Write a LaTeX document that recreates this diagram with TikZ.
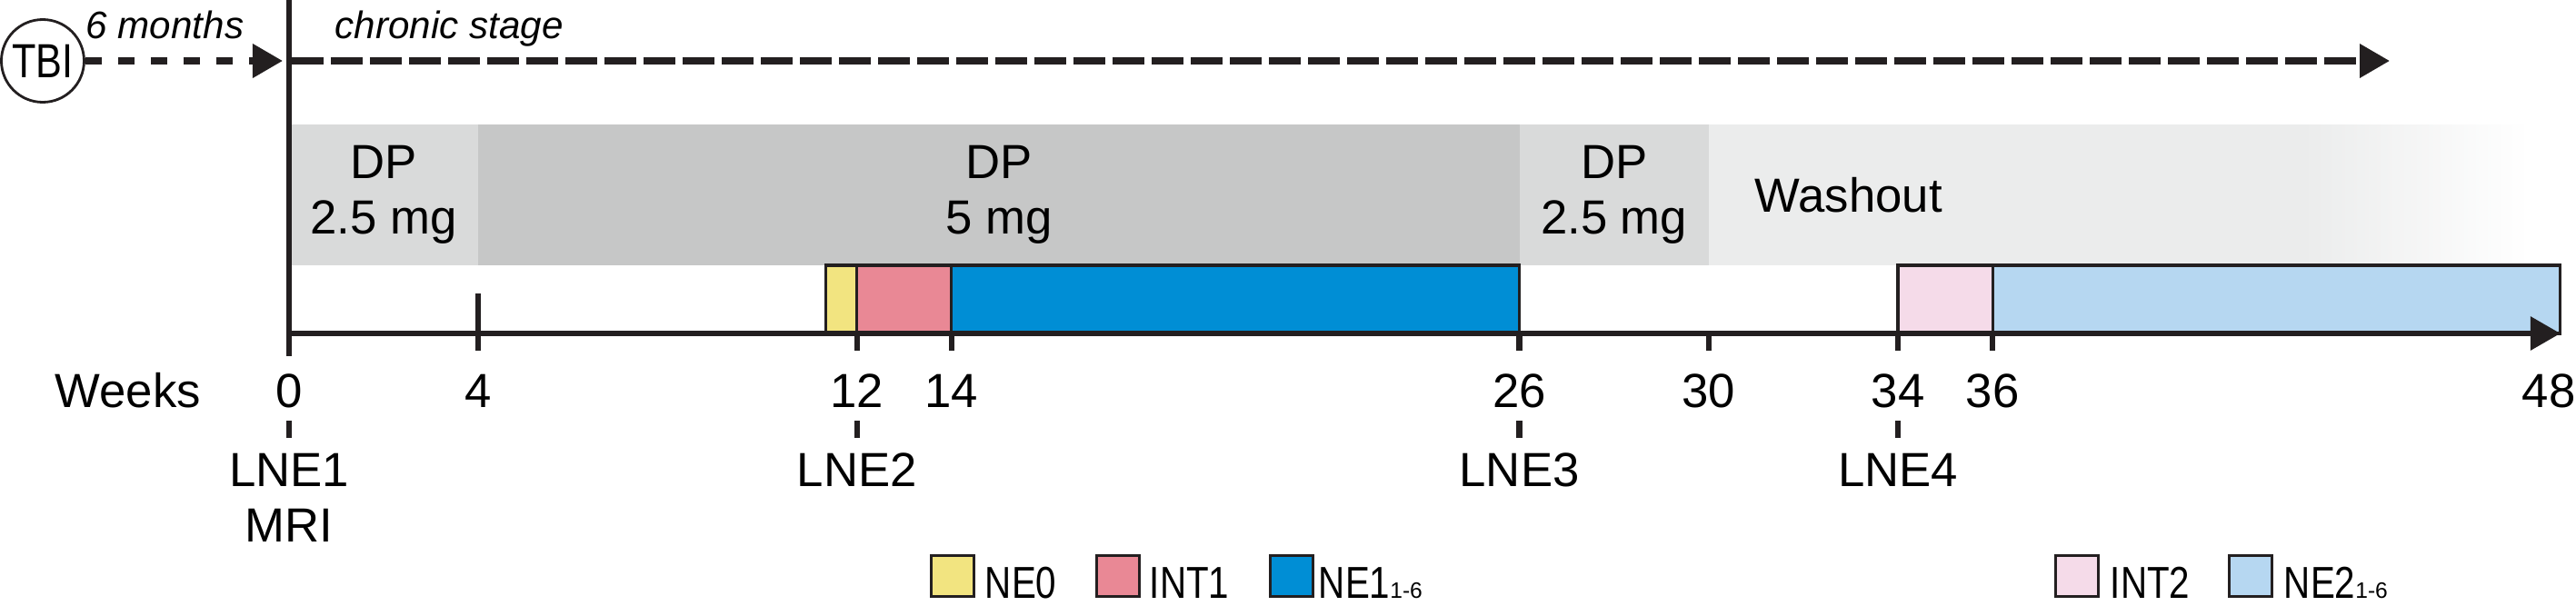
\documentclass[tikz,border=0pt]{standalone}
\usepackage{fontspec}
\setmainfont{Liberation Sans}
\newfontfamily\narrowfont[FakeStretch=0.82]{Liberation Sans}
\usetikzlibrary{arrows.meta,positioning}
\definecolor{inkcol}{HTML}{231F20}
\definecolor{dplow}{HTML}{D9DADA}
\definecolor{dphigh}{HTML}{C6C7C7}
\definecolor{washcol}{HTML}{EBECEC}
\definecolor{necol}{HTML}{F2E480}
\definecolor{intacol}{HTML}{E98895}
\definecolor{neacol}{HTML}{008ED5}
\definecolor{intbcol}{HTML}{F5DBE9}
\definecolor{nebcol}{HTML}{B6D7F1}
\newcommand{\subrng}{{\fontsize{7}{8}\selectfont\rmfamily 1-6}}

\begin{document}
\begin{tikzpicture}[>={Triangle[length=0.33cm, width=0.36cm]},
  lbl/.style={font=\fontsize{15}{17.3}\selectfont, inner sep = 0pt},
  ital/.style={font=\fontsize{12}{14}\selectfont\itshape, inner sep = 0pt, anchor = base west},
  leg/.style={font=\fontsize{14}{16}\selectfont\narrowfont, inner sep = 0pt, anchor = base west},
  legbox/.style={draw = inkcol, line width = 0.9pt, minimum width = 0.47cm, minimum height = 0.45cm, inner sep = 0pt, anchor = south west},
  phase/.style={draw = inkcol, line width = 0.9pt},
  axis/.style={draw = inkcol, line width = 1.8pt}]
\useasboundingbox (-3.18,-2.99) rectangle (25.16,3.67);
\def\wk{0.5206}

% treatment bands
\fill[dplow] (0,0.75) rectangle (4*\wk,2.30);
\fill[dphigh] (4*\wk,0.75) rectangle (26*\wk,2.30);
\fill[dplow] (26*\wk,0.75) rectangle (30*\wk,2.30);
\fill[washcol] (30*\wk,0.75) rectangle (22.16,2.30);
\shade[left color = washcol, right color = white] (22.15,0.75) rectangle (24.65,2.30);
\node[lbl, align = center] (dp1) at (2*\wk,1.525) {DP\\2.5 mg};
\node[lbl, align = center] (dp2) at (15*\wk,1.525) {DP\\5 mg};
\node[lbl, align = center] (dp3) at (28*\wk,1.525) {DP\\2.5 mg};
\node[lbl, anchor = west] (wash) at (16.12,1.525) {Washout};

% test phases
\draw[phase, fill = necol] (11.35*\wk,0) rectangle (12*\wk,0.75);
\draw[phase, fill = intacol] (12*\wk,0) rectangle (14*\wk,0.75);
\draw[phase, fill = neacol] (14*\wk,0) rectangle (26*\wk,0.75);
\draw[phase, fill = intbcol] (34*\wk,0) rectangle (36*\wk,0.75);
\draw[phase, fill = nebcol] (36*\wk,0) rectangle (48*\wk,0.75);

% time axis
\coordinate (origin) at (0,0);
\coordinate (wend) at (48*\wk,0);
\draw[axis, ->] (origin) -- (wend);
\draw[axis] (0,3.67) -- (0,-0.25);
\draw[axis] (4*\wk,0.44) -- (4*\wk,-0.19);
\foreach \w in {12, 14, 26, 30, 34, 36}{\draw[axis] (\w*\wk,0) -- (\w*\wk,-0.19);}

\node[lbl, anchor = base west] (weeks) at (-2.58,-0.81) {Weeks};
\foreach \w in {0, 4, 12, 14, 26, 30, 34, 36}{\node[lbl, anchor = base] (w\w) at (\w*\wk,-0.81) {\w};}
\node[lbl, anchor = base] (w48) at (24.86,-0.81) {48};
\foreach \w/\n in {0/1, 12/2, 26/3, 34/4}{
  \draw[axis] (\w*\wk,-0.96) -- (\w*\wk,-1.15);
  \node[lbl, anchor = base] (lne\n) at (\w*\wk,-1.68) {LNE\n};}
\node[lbl, below = 0.24cm of lne1] (mri) {MRI};

% injury and chronic stage
\node[lbl, draw = inkcol, circle, line width = 0.8pt, minimum size = 0.91cm, font = \fontsize{15}{17}\selectfont\narrowfont] (tbi) at (-2.71,3.00) {TBI};
\coordinate (onset) at (-0.07,3.00);
\coordinate (stagestart) at (0.03,3.00);
\coordinate (stageend) at (23.11,3.00);
\draw[inkcol, line width = 2pt, dash pattern = on 0.18cm off 0.18cm, ->] (tbi) -- (onset);
\draw[inkcol, line width = 2pt, dash pattern = on 0.35cm off 0.08cm, ->] (stagestart) -- (stageend);
\node[ital] (months) at (-2.24,3.25) {6 months};
\node[ital] (stage) at (0.50,3.25) {chronic stage};

% legend
\foreach \nm/\x/\c/\s/\t in {ne0/7.05/necol/0.10cm/NE0, int1/8.87/intacol/0.09cm/INT1, ne1/10.78/neacol/0.04cm/{NE1\subrng}, int2/19.42/intbcol/0.11cm/INT2, ne2/21.33/nebcol/0.11cm/{NE2\subrng}}{
  \node[legbox, fill = \c] (lg\nm) at (\x,-2.91) {};
  \node[leg] (txt\nm) at ([xshift = \s]lg\nm.south east) {\t};}
\end{tikzpicture}
\end{document}
